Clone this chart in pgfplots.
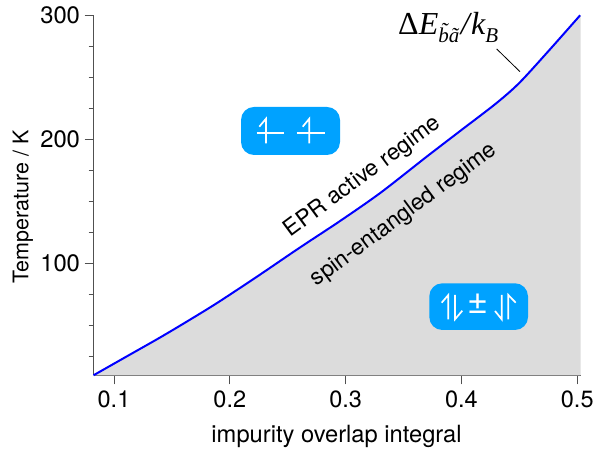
\documentclass[border=0pt]{standalone}
\usepackage{fontspec}
\usepackage{pgfplots}
\pgfplotsset{compat=1.18}
\setmainfont{TeX Gyre Heros}
\newfontfamily\serif{Liberation Serif}
\definecolor{bub}{HTML}{00A2FF}
\definecolor{shade}{HTML}{DCDCDC}
\definecolor{axc}{HTML}{505050}
\pgfplotstableread{
x T
0.0823 9.7
0.110 24.4
0.140 40.3
0.165 54.2
0.190 68.6
0.225 90.2
0.260 112.4
0.295 134.0
0.330 156.8
0.370 186.0
0.400 207.5
0.430 229.0
0.450 245.5
0.475 271.0
0.5025 300.0
}\curve
\begin{document}
\begin{tikzpicture}[x=1bp,y=1bp]
\useasboundingbox (0,0) rectangle (595,451);
\begin{axis}[
  at={(93.5bp,75.7bp)},anchor=south west,
  scale only axis,width=487.2bp,height=360bp,
  xmin=0.0823,xmax=0.503,ymin=9.7,ymax=300,
  axis lines=left,axis line style={-,draw=axc,line width=0.8bp},
  xtick={0.1,0.2,0.3,0.4,0.5},
  ytick={100,200,300},
  minor ytick={25,50,75,125,150,175,225,250,275},
  tick style={draw=axc,line width=0.7bp},
  tick align=outside,
  major tick length=9bp,minor tick length=5bp,
  xticklabel style={/pgf/number format/fixed,/pgf/number format/precision=1,/pgf/number format/fixed zerofill,font=\fontsize{23.5bp}{25bp}\selectfont,yshift=-3bp},
  yticklabel style={font=\fontsize{23.8bp}{25bp}\selectfont,xshift=-1bp},
  /pgf/number format/assume math mode=true,
  xlabel={impurity overlap integral},
  ylabel={Temperature / K},
  xlabel style={font=\fontsize{23.7bp}{25bp}\selectfont,at={(axis description cs:0.4988,-0.1686)},anchor=center},
  ylabel style={font=\fontsize{21.5bp}{23bp}\selectfont,at={(axis description cs:-0.1447,0.467)},anchor=center,rotate=0},
  clip=false,
]
\addplot[fill=shade,draw=none] table[x=x,y=T]{\curve} -- (axis cs:0.503,300) -- (axis cs:0.503,9.7) -- cycle;
\addplot[blue,line width=2bp,smooth,tension=0.5] table[x=x,y=T]{\curve};
\end{axis}
\begin{scope}[yshift=451bp,x=1bp,y=-1bp]
\draw[black,line width=0.8bp] (496.7,49) -- (520,71.7);
% bubbles
\fill[bub,rounded corners=13bp] (241,107) rectangle (340,155);
\fill[bub,rounded corners=13bp] (429.3,283.3) rectangle (528,330);
\begin{scope}[white,line width=1.7bp]
\draw (256.7,132.7) -- (284.3,132.7);
\draw (259.3,126.7) -- (266,118.7) -- (266,143.3);
\draw (296.7,132.7) -- (325,132.7);
\draw (302.7,126.7) -- (309.3,118.7) -- (309.3,143.3);
\draw (441.7,302.7) -- (448.3,295) -- (448.3,319.3);
\draw (455,295) -- (455,319.3) -- (462.3,310.7);
\draw (495,311) -- (501.7,319.3) -- (501.7,295);
\draw (508.3,319.3) -- (508.3,295) -- (515.7,302.7);
\end{scope}
\node[white,font=\fontsize{36bp}{38bp}\selectfont] at (478,304) {±};
% rotated texts
\node[rotate=36.5,font=\fontsize{22.8bp}{24bp}\selectfont] at (363,177) {EPR active regime};
\node[rotate=36.5,font=\fontsize{22.8bp}{24bp}\selectfont] at (404,215) {spin-entangled regime};
\node[anchor=base west,inner sep=0pt,font=\fontsize{32bp}{34bp}\selectfont\serif] at (398,35) {Δ\itshape E\raisebox{-0.22em}{\fontsize{21bp}{23bp}\selectfont b̃ã}\kern1.5bp/\kern1.5bp k\raisebox{-0.22em}{\fontsize{21bp}{23bp}\selectfont B}};
\end{scope}
\end{tikzpicture}
\end{document}
